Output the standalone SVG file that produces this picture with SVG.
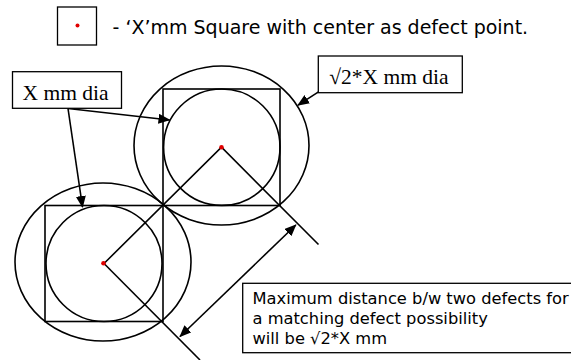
<svg xmlns="http://www.w3.org/2000/svg" width="571" height="360" viewBox="0 0 571 360">
<style>
.ln{fill:none;stroke:#000;stroke-width:1.6}
.bx{fill:#fff;stroke:#000;stroke-width:1.3}
.dot{fill:#e00000}
.sans{font-family:"DejaVu Sans",Verdana,sans-serif;fill:#000}
.serif{font-family:"Liberation Serif","Times New Roman",serif;fill:#000;font-size:21.5px}
</style>
<defs>
<marker id="ah" markerUnits="userSpaceOnUse" markerWidth="12" markerHeight="10" refX="11" refY="5" orient="auto-start-reverse" viewBox="0 0 12 10">
<path d="M0,0 L12,5 L0,10 Z" fill="#000"/>
</marker>
</defs>
<rect width="571" height="360" fill="#fff"/>
<g id="legend">
<rect class="bx" x="57.5" y="7" width="39" height="38"/>
<circle class="dot" cx="77.5" cy="25.5" r="2"/>
<text class="sans" x="112.5" y="33.5" font-size="19">- ‘X’mm Square with center as defect point.</text>
</g>
<g id="upper-defect">
<ellipse class="ln" cx="221.5" cy="145.5" rx="87.5" ry="79.5"/>
<rect class="ln" x="163" y="89" width="117" height="116.5"/>
<circle class="ln" cx="221.8" cy="147.2" r="58.2"/>
</g>
<g id="lower-defect">
<ellipse class="ln" cx="103" cy="262" rx="88" ry="79"/>
<rect class="ln" x="45" y="205.5" width="118" height="116"/>
<circle class="ln" cx="104" cy="263.5" r="58"/>
</g>
<g id="connectors">
<polyline class="ln" points="104,263.5 221.5,147.2 318.5,244.5"/>
<line class="ln" x1="104" y1="263.5" x2="200" y2="360"/>
<line class="ln" x1="68" y1="108.5" x2="169.5" y2="120" marker-end="url(#ah)"/>
<line class="ln" x1="68" y1="108.5" x2="82.5" y2="207" marker-end="url(#ah)"/>
<line class="ln" x1="318.5" y1="91.8" x2="298" y2="105.2" marker-end="url(#ah)"/>
<line class="ln" x1="180" y1="336.5" x2="295.8" y2="225" marker-start="url(#ah)" marker-end="url(#ah)"/>
</g>
<g id="dots">
<circle class="dot" cx="221.5" cy="147.2" r="2.3"/>
<circle class="dot" cx="103.5" cy="263.3" r="2.3"/>
</g>
<g id="label-x">
<rect class="bx" x="12.5" y="71.7" width="109" height="36.6"/>
<text class="serif" x="22.5" y="99.5">X mm dia</text>
</g>
<g id="label-root2">
<rect class="bx" x="318.3" y="56" width="144" height="36.7"/>
<text class="serif" x="329.3" y="83.5">√2*X mm dia</text>
</g>
<g id="label-max">
<rect class="bx" x="242.7" y="283.3" width="340" height="69.4"/>
<text class="sans" font-size="16.3" x="252.5" y="304.3">Maximum distance b/w two defects for</text>
<text class="sans" font-size="16.3" x="252.5" y="324">a matching defect possibility</text>
<text class="sans" font-size="16.3" x="252.5" y="343.5">will be √2*X mm</text>
</g>
</svg>
